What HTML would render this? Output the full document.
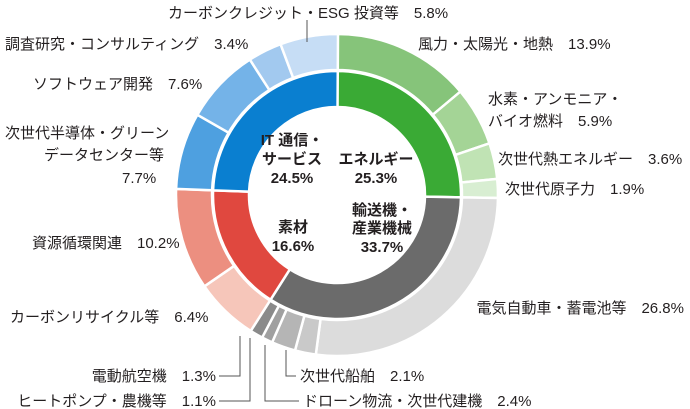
<!DOCTYPE html>
<html><head><meta charset="utf-8"><style>
html,body{margin:0;padding:0;background:#fff;}
svg{display:block;font-family:"Liberation Sans","Noto Sans CJK JP",sans-serif;}
text{fill:#231f20;font-size:15px;}
.b{font-weight:bold;font-size:15px;}
</style></head><body>
<svg id="s" width="690" height="409" viewBox="0 0 690 409" xmlns="http://www.w3.org/2000/svg">
<g id="arcs"></g>
<g stroke="#555" stroke-width="1" fill="none">
<polyline points="307,20 307,42"/>
<polyline points="240,336 240,376 219,376"/>
<polyline points="250,338 250,401 219,401"/>
<polyline points="265,345 265,401 299,401"/>
<polyline points="286,350 286,376 296,376"/>
</g>
<text x="168" y="18">カーボンクレジット・ESG 投資等　5.8%</text>
<text x="5" y="49">調査研究・コンサルティング　3.4%</text>
<text x="33" y="89">ソフトウェア開発　7.6%</text>
<text x="5" y="138">次世代半導体・グリーン</text>
<text x="44" y="160">データセンター等</text>
<text x="122" y="183">7.7%</text>
<text x="32" y="248">資源循環関連　10.2%</text>
<text x="10" y="322">カーボンリサイクル等　6.4%</text>
<text x="216" y="381" text-anchor="end">電動航空機　1.3%</text>
<text x="216" y="406" text-anchor="end">ヒートポンプ・農機等　1.1%</text>
<text x="300" y="381">次世代船舶　2.1%</text>
<text x="303" y="406">ドローン物流・次世代建機　2.4%</text>
<text x="684" y="313" text-anchor="end">電気自動車・蓄電池等　26.8%</text>
<text x="505" y="194">次世代原子力　1.9%</text>
<text x="498" y="164">次世代熱エネルギー　3.6%</text>
<text x="488" y="104">水素・アンモニア・</text>
<text x="488" y="126">バイオ燃料　5.9%</text>
<text x="418" y="49">風力・太陽光・地熱　13.9%</text>
<g text-anchor="middle">
<text class="b" x="292" y="145">IT 通信・</text>
<text class="b" x="292" y="164">サービス</text>
<text class="b" x="292" y="183">24.5%</text>
<text class="b" x="376" y="164">エネルギー</text>
<text class="b" x="376" y="183">25.3%</text>
<text class="b" x="382" y="215">輸送機・</text>
<text class="b" x="382" y="233">産業機械</text>
<text class="b" x="382" y="252">33.7%</text>
<text class="b" x="293" y="232">素材</text>
<text class="b" x="293" y="251">16.6%</text>
</g>
</svg>
<script>
var cx=337,cy=195;
function pt(r,f){var a=f*2*Math.PI;return [cx+r*Math.sin(a),cy-r*Math.cos(a)];}
function arc(r0,r1,f0,f1,c){var p=[pt(r1,f0),pt(r1,f1),pt(r0,f1),pt(r0,f0)];var L=(f1-f0)>0.5?1:0;
return '<path d="M'+p[0]+' A'+r1+','+r1+' 0 '+L+' 1 '+p[1]+' L'+p[2]+' A'+r0+','+r0+' 0 '+L+' 0 '+p[3]+'Z" fill="'+c+'" stroke="#fff" stroke-width="2.5"/>';}
var inner=[[25.3,'#3aaa35'],[33.7,'#6b6b6b'],[16.6,'#e0483f'],[24.5,'#0a7fd0']];
var outer=[[13.9,'#86c47a'],[5.9,'#a4d496'],[3.6,'#c0e3b4'],[1.9,'#d8eed2'],[26.8,'#dcdcdc'],[2.1,'#c9c9c9'],[2.4,'#b5b5b5'],[1.1,'#a0a0a0'],[1.3,'#8a8a8a'],[6.4,'#f6c6ba'],[10.2,'#ec8f80'],[7.7,'#4ea0e0'],[7.6,'#74b3e8'],[3.4,'#a2c9ef'],[5.8,'#c6ddf5']];
var h='',f=0;
inner.forEach(function(s){h+=arc(88,124,f,f+s[0]/100,s[1]);f+=s[0]/100;});
f=0;outer.forEach(function(s){h+=arc(125,161,f,f+s[0]/100,s[1]);f+=s[0]/100;});
document.getElementById('arcs').innerHTML=h;
</script>
</body></html>
